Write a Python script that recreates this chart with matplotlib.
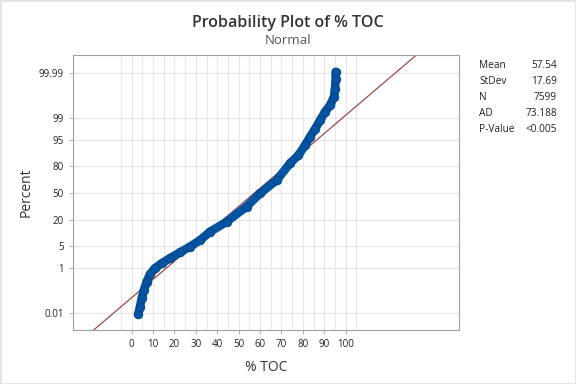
import matplotlib
matplotlib.use('Agg')
import matplotlib.pyplot as plt
from statistics import NormalDist

# (value, cumulative percent)
toc = [3.1, 3.9, 4.7, 5.75, 7.0, 8.55, 10.9, 14.0, 17.9, 22.6, 27.3, 32.0,
       36.6, 44.4, 53.7, 60.0, 67.8, 74.0, 77.9, 81.0, 83.3, 85.7, 88.0,
       90.3, 92.7, 94.5, 95.0, 95.3, 95.3]
percent = [0.0082, 0.0208, 0.054, 0.126, 0.289, 0.570, 0.964, 1.43, 2.12,
           3.22, 4.75, 7.08, 11.3, 18.4, 33.4, 49.2, 65.2, 81.9, 87.7, 92.9,
           95.8, 97.6, 98.75, 99.38, 99.66, 99.851, 99.936, 99.979, 99.991]

y_ticks = [0.01, 1, 5, 20, 50, 80, 95, 99, 99.99]
y_labels = ['0.01', '1', '5', '20', '50', '80', '95', '99', '99.99']
x_ticks = list(range(0, 101, 10))

stat_names = ['Mean', 'StDev', 'N', 'AD', 'P-Value']
stat_values = ['57.54', '17.69', '7599', '73.188', '<0.005']
mean, sd = 57.54, 17.69

plt.rcParams['font.family'] = ['Open Sans', 'DejaVu Sans']

nd = NormalDist()
z = lambda p: nd.inv_cdf(p / 100.0)

fig = plt.figure(figsize=(5.76, 3.84), dpi=100)
fig.patch.set_edgecolor('#e4e4e4')
fig.patch.set_linewidth(2)
ax = fig.add_axes([0.1267, 0.1406, 0.6701, 0.7162])

xmin, xmax = -27.4, 152.9
ymin, ymax = -4.255, 4.267

# grid
for gx in range(-5, 106, 5):
    ax.axvline(gx, color='#e6e6e6', lw=0.8, zorder=0)
for p in y_ticks:
    ax.axhline(z(p), color='#e6e6e6', lw=0.8, zorder=0)

# fitted normal line
ax.plot([xmin, xmax], [(xmin - mean) / sd, (xmax - mean) / sd],
        color='#9e4848', lw=0.9, zorder=2)

zs = [z(p) for p in percent]
ax.plot(toc, zs, color='#0454a4', lw=6.2, solid_capstyle='round',
        solid_joinstyle='round', zorder=3)
ax.plot(toc, zs, 'o', color='#0454a4', mec='#063f7c', mew=0.5, ms=6.3,
        zorder=4)

ax.set_xlim(xmin, xmax)
ax.set_ylim(ymin, ymax)
ax.set_xticks(x_ticks)
ax.set_yticks([z(p) for p in y_ticks])
ax.set_yticklabels(y_labels)
ax.tick_params(labelsize=7, colors='#222222', length=3, width=0.6)
ax.tick_params(axis='both', color='#a0a0a0')
for s in ax.spines.values():
    s.set_color('#a0a0a0')
    s.set_linewidth(0.8)

ax.set_xlabel('% TOC', fontsize=10, color='#333333', labelpad=7)
ax.set_ylabel('Percent', fontsize=10, color='#333333', labelpad=4)

fig.text(0.5, 1 - 23 / 384, 'Probability Plot of % TOC', ha='center',
         va='center', fontsize=11.5, color='#333333', fontweight='semibold')
fig.text(0.5, 1 - 41 / 384, 'Normal', ha='center', va='center',
         fontsize=9.5, color='#555555')

for i, (n, v) in enumerate(zip(stat_names, stat_values)):
    yy = 1 - (66 + i * 15.8) / 384
    fig.text(479 / 576, yy, n, ha='left', va='center', fontsize=7.3,
             color='#222222')
    fig.text(557 / 576, yy, v, ha='right', va='center', fontsize=7.3,
             color='#222222')

plt.savefig('out.png', dpi=100)
